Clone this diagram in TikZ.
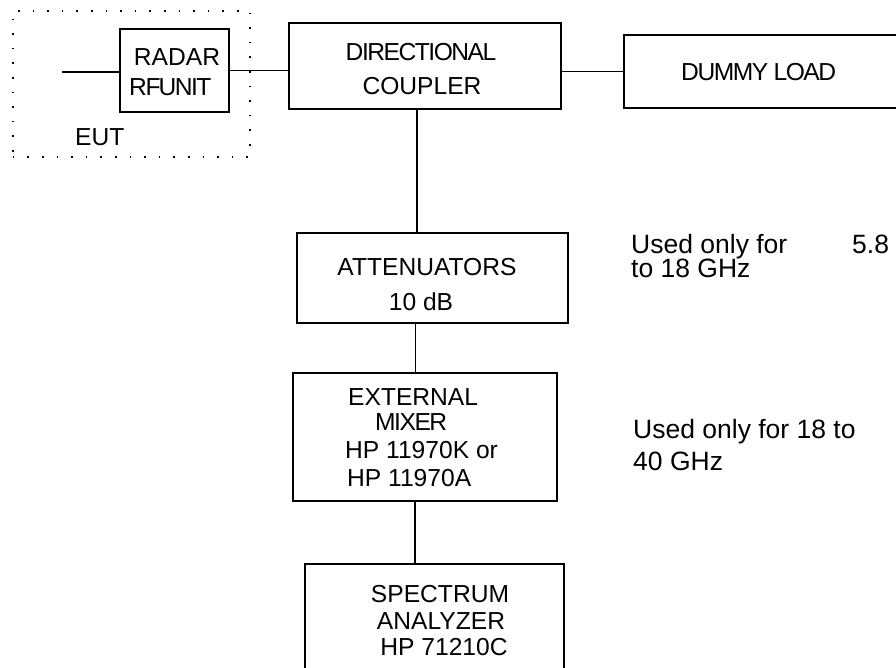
\documentclass[tikz,border=0pt]{standalone}
\usepackage{fontspec}
\setmainfont{Liberation Sans}
\newfontfamily\serre[LetterSpace=-6]{Liberation Sans}
\tikzset{
  boite/.style={draw, line width=1.8pt, inner sep=0pt, anchor=north west},
  cadre/.style={draw, line width=1.6pt, dash pattern=on 1.6pt off 13pt, inner sep=0pt, anchor=north west},
  liaison/.style={line width=1.4pt},
  texte/.style={inner sep=0pt, anchor=base, font=\fontsize{24.6}{28}\selectfont},
  serre/.style={texte, font=\serre\fontsize{24.6}{28}\selectfont},
  note/.style={inner sep=0pt, anchor=base west, font=\fontsize{26.5}{30}\selectfont},
}

\begin{document}
\begin{tikzpicture}[x=1pt, y=-1pt]
    \useasboundingbox (0,0) rectangle (896,667);
    \clip (0,0) rectangle (896,667);
    % blocs (coin haut gauche, largeur, hauteur en px)
    \node[cadre, minimum width=237pt, minimum height=146pt] (eut) at (12,10) {};
    \node[boite, minimum width=109pt, minimum height=83pt] (radar) at (119,28) {};
    \node[boite, minimum width=272pt, minimum height=86pt] (coupleur) at (288,22) {};
    \node[boite, minimum width=300pt, minimum height=73pt] (charge) at (623,34) {};
    \node[boite, minimum width=271pt, minimum height=90pt] (att) at (296,232) {};
    \node[boite, minimum width=264pt, minimum height=128pt] (melangeur) at (292,372) {};
    \node[boite, minimum width=259pt, minimum height=130pt] (analyseur) at (304,563) {};
    \coordinate (entree) at (62,72);
    % textes des blocs
    \node[texte] (t-radar) at (177,65) {RADAR};
    \node[serre, anchor=base west] (t-rfunit) at (129,95) {RF\kern-2pt UNIT};
    \node[texte, anchor=base west] (t-eut) at (75,145) {EUT};
    \node[serre] (t-dir) at (421,60) {DIRECTIONAL};
    \node[texte] (t-coupl) at (422,94) {COUPLER};
    \node[serre, anchor=base west] (t-charge) at (681,80) {DUMMY LOAD};
    \node[texte] (t-att) at (427,275) {ATTENUATORS};
    \node[texte] (t-db) at (421,310) {10 dB};
    \node[texte, anchor=base west] (t-ext) at (348,405) {EXTERNAL};
    \node[serre, anchor=base west] (t-mix) at (375,430) {MIXER};
    \node[texte, anchor=base west] (t-hpk) at (345,458) {HP 11970K or};
    \node[texte, anchor=base west] (t-hpa) at (347,486) {HP 11970A};
    \node[texte] (t-spec) at (440,602) {SPECTRUM};
    \node[texte] (t-ana) at (441,629) {ANALYZER};
    \node[texte] (t-hp) at (444,655) {HP 71210C};
    % remarques à droite
    \node[note] (n-used1) at (631,253) {Used only for};
    \node[note] (n-58) at (852,253) {5.8};
    \node[note] (n-ghz1) at (631,277) {to 18 GHz};
    \node[note] (n-used2) at (633,438) {Used only for 18 to};
    \node[note] (n-ghz2) at (633,470) {40 GHz};
    % liaisons
    \draw[liaison] (entree) -- (entree -| radar.west);
    \draw[liaison] (radar.east) -- (radar.east -| coupleur.west);
    \draw[liaison] (coupleur.east |- charge.west) -- (charge.west);
    \draw[liaison] ([xshift=-8pt]coupleur.south) -- ([xshift=-8pt]coupleur.south |- att.north);
    \draw[liaison] ([xshift=-17pt]att.south) -- ([xshift=-17pt]att.south |- melangeur.north);
    \draw[liaison] ([xshift=-10pt]melangeur.south) -- ([xshift=-10pt]melangeur.south |- analyseur.north);
\end{tikzpicture}
\end{document}
